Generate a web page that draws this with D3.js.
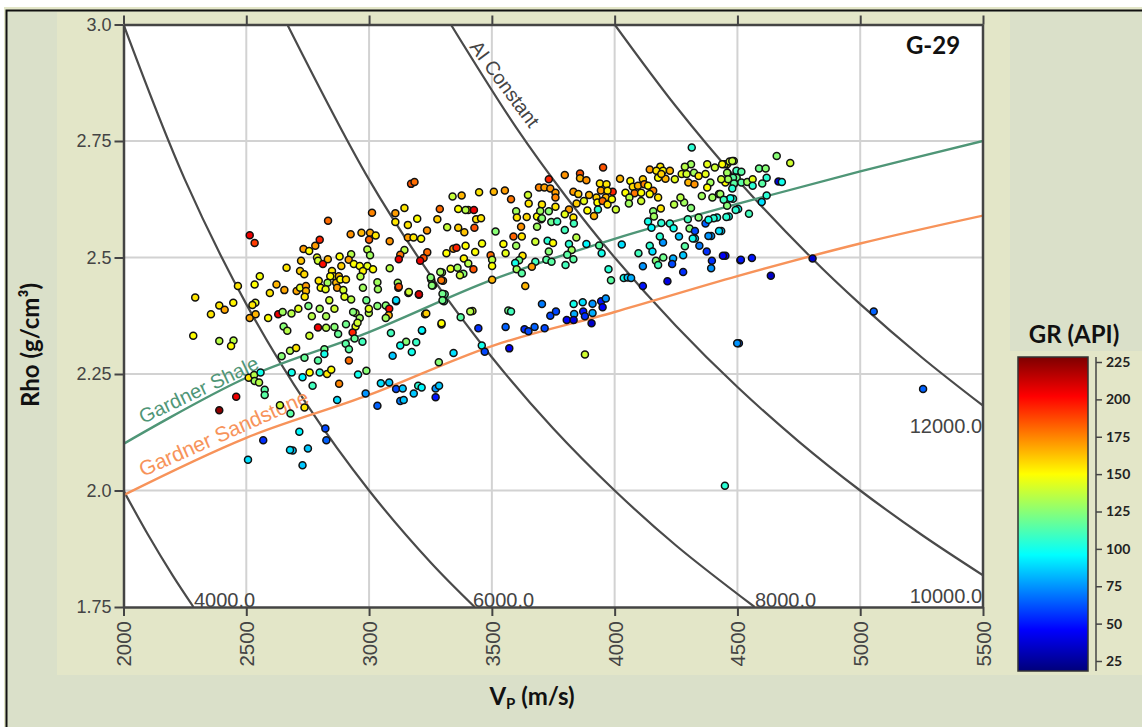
<!DOCTYPE html>
<html>
<head>
<meta charset="utf-8">
<script src="https://cdn.jsdelivr.net/npm/d3@7"></script>
<style>
  html, body { margin: 0; padding: 0; background: #fff; }
  svg { display: block; }
</style>
</head>
<body>
<svg id="chart" width="1142" height="727"></svg>
<script>
// tick labels
const vpTicks = [2000, 2500, 3000, 3500, 4000, 4500, 5000, 5500];
const rhoTicks = [1.75, 2.0, 2.25, 2.5, 2.75, 3.0];
const rhoTickLabels = ['1.75', '2.0', '2.25', '2.5', '2.75', '3.0'];
const grTicks = [25, 50, 75, 100, 125, 150, 175, 200, 225];

// colour bar stops
const grStops = [18, 46, 96, 150, 202, 228];
const grColors = ['#00007a', '#0000ff', '#00ffff', '#ffff00', '#ff0000', '#7f0000'];

// constant AI lines, read as [vp, rho]
const ai4000 = [[2000, 2.0], [2100, 1.905], [2200, 1.818], [2285, 1.75]];
const ai6000 = [[2000, 3.0], [2250, 2.667], [2500, 2.4], [2750, 2.182], [3000, 2.0], [3250, 1.846], [3430, 1.75]];
const ai8000 = [[2667, 3.0], [3000, 2.667], [3250, 2.462], [3500, 2.286], [3750, 2.133], [4000, 2.0], [4250, 1.882], [4570, 1.75]];
const ai10000 = [[3333, 3.0], [3600, 2.778], [3800, 2.632], [4000, 2.5], [4250, 2.353], [4500, 2.222], [4750, 2.105], [5000, 2.0], [5250, 1.905], [5500, 1.818]];
const ai12000 = [[4000, 3.0], [4250, 2.824], [4500, 2.667], [4800, 2.5], [5000, 2.4], [5250, 2.286], [5500, 2.182]];

// Gardner trends, read as [vp, rho]
const gardnerShale = [[2000, 2.10], [2500, 2.242], [3000, 2.34], [3500, 2.452], [4000, 2.54], [4500, 2.615], [5000, 2.685], [5500, 2.75]];
const gardnerSand = [[2000, 1.99], [2500, 2.113], [3000, 2.205], [3500, 2.31], [4000, 2.383], [4500, 2.46], [5000, 2.53], [5500, 2.59]];

// well points as [vp, rho, gr]
const leftPoints = [
  [2514,2.548,205],[2534,2.531,190],[2292,2.414,155],[2284,2.332,150],[2356,2.378,155],[2390,2.397,155],
  [2412,2.388,168],[2447,2.403,152],[2390,2.321,135],[2448,2.322,135],[2438,2.31,150],[2466,2.439,155],
  [2555,2.46,148],[2534,2.442,150],[2537,2.403,145],[2525,2.398,155],[2514,2.37,168],[2538,2.378,165],
  [2589,2.37,150],[2630,2.378,205],[2648,2.383,130],[2684,2.38,135],[2712,2.39,145],[2753,2.396,122],
  [2767,2.374,135],[2799,2.39,132],[2825,2.374,132],[2859,2.39,140],[2838,2.408,140],[2623,2.442,165],
  [2596,2.424,155],[2655,2.43,168],[2664,2.478,155],[2723,2.493,162],[2719,2.471,160],[2736,2.464,158],
  [2733,2.518,170],[2756,2.514,150],[2781,2.525,170],[2799,2.538,195],[2788,2.5,145],[2792,2.493,140],
  [2812,2.486,200],[2832,2.496,165],[2880,2.502,150],[2927,2.507,135],[2887,2.482,160],[2917,2.495,170],
  [2938,2.486,150],[2962,2.482,150],[2993,2.482,145],[2975,2.471,152],[2965,2.459,135],[3016,2.475,150],
  [2993,2.517,135],[3004,2.505,130],[3084,2.477,135],[2925,2.55,172],[2969,2.553,165],[3004,2.553,168],
  [3027,2.547,155],[3000,2.538,182],[3084,2.535,172],[2833,2.579,180],[2849,2.471,155],[2856,2.46,152],
  [2877,2.46,165],[2842,2.46,150],[2831,2.446,130],[2866,2.446,165],[2883,2.453,150],[2906,2.453,158],
  [2795,2.45,155],[2803,2.435,150],[2823,2.432,145],[2870,2.435,170],[2895,2.43,140],[2900,2.416,145],
  [2927,2.41,135],[2975,2.435,130],[3034,2.447,130],[3036,2.432,130],[2705,2.428,168],[2719,2.435,145],
  [2743,2.439,170],[2743,2.428,165],[2738,2.416,155]
];
const lowerLeftPoints = [
  [2989,2.408,120],[3034,2.396,125],[3068,2.397,125],[3082,2.39,200],[3080,2.376,165],[3068,2.37,130],
  [3110,2.406,100],[2999,2.381,135],[2945,2.381,135],[2935,2.383,125],[2962,2.37,130],[2945,2.352,145],
  [2953,2.36,140],[2999,2.39,145],[2652,2.352,125],[2667,2.343,135],[2757,2.332,140],[2792,2.35,205],
  [2825,2.349,135],[2859,2.351,125],[2874,2.336,118],[2906,2.357,120],[2933,2.339,195],[2941,2.326,118],
  [2973,2.319,110],[2905,2.315,115],[2918,2.303,115],[3089,2.338,110],[3151,2.319,125],[3127,2.311,100],
  [3192,2.318,108],[3174,2.297,100],[3096,2.289,85],[3216,2.343,100],[3295,2.356,150],[3228,2.378,160],
  [3119,2.435,185],[3160,2.424,145],[3203,2.42,205],[3253,2.453,125],[3260,2.44,125],[3301,2.45,170],
  [3297,2.468,130],[3308,2.421,115],[3305,2.406,115],[2644,2.288,125],[2678,2.3,135],[2703,2.306,155],
  [2737,2.285,118],[2818,2.303,120],[2818,2.293,100],[2792,2.279,115],[2685,2.253,100],[2729,2.243,95],
  [2758,2.253,150],[2770,2.225,110],[2799,2.253,105],[2829,2.25,155],[2846,2.259,150],[2918,2.279,180],
  [2955,2.249,100],[2989,2.257,125],[2878,2.229,175],[2870,2.194,90],[2986,2.208,75],[3034,2.182,65],
  [3048,2.23,90],[3082,2.232,85],[3110,2.218,60],[3137,2.219,85],[3127,2.192,70],[3141,2.194,85],
  [3182,2.208,85],[3200,2.225,105],[3214,2.221,95],[3271,2.219,75],[3285,2.225,85],[3271,2.2,50],
  [3284,2.275,125],[2510,2.242,155],[2532,2.248,135],[2558,2.253,100],[2534,2.235,130],[2552,2.232,135],
  [2575,2.216,115],[2575,2.205,115],[2459,2.201,205],[2390,2.172,225],[2637,2.183,140],[2680,2.165,115],
  [2737,2.178,155],[2569,2.108,55],[2716,2.126,95],[2822,2.133,60],[2826,2.108,65],[2689,2.086,85],
  [2751,2.09,85],[2507,2.066,90],[2729,2.054,85],[2678,2.087,90]
];
const middlePoints = [
  [3171,2.658,185],[3185,2.662,180],[3012,2.596,175],[3107,2.595,170],[3144,2.606,155],[3107,2.576,155],
  [3196,2.583,150],[3158,2.57,155],[3278,2.582,160],[3288,2.604,180],[3236,2.558,172],[3340,2.631,138],
  [3377,2.633,165],[3448,2.64,155],[3318,2.565,138],[3363,2.604,150],[3404,2.602,165],[3427,2.602,205],
  [3393,2.602,135],[3363,2.564,160],[3388,2.554,162],[3429,2.564,185],[3436,2.582,155],[3456,2.584,155],
  [3158,2.543,170],[3181,2.543,155],[3212,2.54,150],[3144,2.516,135],[3127,2.506,178],[3121,2.496,205],
  [3237,2.511,180],[3222,2.499,185],[3208,2.493,205],[3315,2.509,150],[3343,2.519,172],[3356,2.521,195],
  [3393,2.525,150],[3432,2.512,150],[3386,2.498,152],[3404,2.487,135],[3332,2.476,145],[3360,2.478,130],
  [3384,2.465,125],[3370,2.462,140],[3425,2.475,185],[3290,2.469,130],[3294,2.451,178],[3251,2.457,125],
  [3256,2.44,125],[3117,2.446,130],[3121,2.437,185],[3162,2.426,140],[3203,2.421,210],[3110,2.408,90],
  [3299,2.422,120],[3299,2.408,120],[3373,2.372,115],[3421,2.385,140],[3233,2.38,160],[3295,2.359,150],
  [3215,2.344,95],[3445,2.348,55],[3344,2.295,90],[3459,2.311,100]
];
const centrePoints = [
  [3508,2.641,165],[3553,2.644,170],[3578,2.625,178],[3647,2.634,140],[3650,2.616,155],[3599,2.599,130],
  [3602,2.586,155],[3642,2.587,158],[3684,2.588,150],[3701,2.582,160],[3692,2.65,175],[3714,2.65,170],
  [3732,2.668,195],[3738,2.648,172],[3759,2.639,170],[3759,2.629,175],[3704,2.614,155],[3797,2.677,172],
  [3859,2.68,185],[3859,2.67,165],[3885,2.666,172],[3953,2.693,185],[3940,2.659,155],[3967,2.657,155],
  [3992,2.641,195],[3832,2.641,170],[3852,2.636,160],[3896,2.634,165],[3944,2.644,170],[3971,2.643,155],
  [3926,2.629,160],[3964,2.629,165],[3845,2.616,160],[3814,2.603,170],[3875,2.621,145],[3930,2.618,150],
  [3951,2.621,180],[3971,2.614,155],[3989,2.625,148],[4005,2.603,140],[3889,2.601,150],[3932,2.603,105],
  [3759,2.609,155],[3732,2.599,125],[3697,2.6,130],[3797,2.593,145],[3832,2.586,155],[3916,2.589,165],
  [3834,2.573,110],[3742,2.576,120],[3766,2.577,110],[3704,2.584,125],[3684,2.566,130],[3619,2.566,172],
  [3588,2.545,182],[3622,2.545,155],[3677,2.534,140],[3727,2.536,105],[3749,2.531,150],[3797,2.559,110],
  [3814,2.529,105],[3844,2.543,135],[3825,2.516,130],[3885,2.529,95],[3937,2.526,115],[3947,2.509,100],
  [4029,2.528,90],[3732,2.513,125],[3722,2.495,115],[3743,2.491,115],[3807,2.506,115],[3832,2.496,115],
  [3800,2.484,110],[3677,2.491,110],[3663,2.48,170],[3625,2.504,155],[3611,2.494,120],[3595,2.488,100],
  [3601,2.475,130],[3622,2.466,115],[3547,2.529,150],[3556,2.509,145],[3599,2.525,130],[3460,2.53,148],
  [3495,2.505,180],[3501,2.495,135],[3501,2.482,150],[3501,2.452,165],[3636,2.439,165],[3515,2.556,125]
];
const lowerRightPoints = [
  [3975,2.475,105],[3985,2.451,115],[4037,2.456,100],[4053,2.457,85],[4067,2.456,80],[4115,2.439,50],
  [4215,2.449,40],[4115,2.481,75],[4097,2.509,110],[4143,2.525,105],[4154,2.513,90],[4168,2.493,125],
  [4198,2.5,120],[4177,2.484,110],[4238,2.498,80],[4234,2.486,60],[4279,2.505,85],[4279,2.469,55],
  [4286,2.524,115],[4197,2.532,75],[4184,2.545,105],[4262,2.545,85],[4327,2.541,90],[4345,2.525,70],
  [4375,2.513,55],[4393,2.546,75],[4434,2.557,85],[4451,2.504,40],[4396,2.493,55],[4393,2.477,75],
  [4512,2.494,45],[4506,2.316,65],[3567,2.386,120],[3578,2.384,110],[3412,2.384,135],[3556,2.351,65],
  [3633,2.346,55],[3649,2.342,60],[3674,2.351,65],[3715,2.348,60],[3571,2.305,45],[3471,2.298,60],
  [3879,2.292,140],[3704,2.4,70],[3738,2.375,60],[3761,2.384,60],[3833,2.4,100],[3870,2.404,90],
  [3910,2.401,75],[3945,2.406,50],[3964,2.412,75],[3951,2.393,45],[3835,2.379,80],[3872,2.384,50],
  [3910,2.381,80],[3805,2.366,45],[3833,2.366,40],[3879,2.374,55],[3906,2.359,35]
];
const upperRightPoints = [
  [4022,2.669,165],[4064,2.664,150],[4044,2.639,150],[4074,2.652,158],[4115,2.668,160],[4095,2.654,165],
  [4143,2.689,170],[4186,2.695,155],[4170,2.686,155],[4197,2.686,150],[4225,2.686,165],[4177,2.671,150],
  [4207,2.669,165],[4190,2.679,160],[4121,2.657,175],[4136,2.654,150],[4157,2.643,175],[4081,2.638,178],
  [4108,2.639,150],[4143,2.636,150],[4177,2.629,155],[4060,2.629,135],[4108,2.621,140],[4058,2.616,130],
  [4157,2.599,125],[4188,2.605,155],[4160,2.588,130],[4136,2.577,100],[4150,2.564,95],[4190,2.574,105],
  [4225,2.573,105],[4240,2.563,100],[4311,2.606,125],[4242,2.614,135],[4283,2.618,130],[4268,2.629,135],
  [4245,2.668,145],[4273,2.679,145],[4293,2.679,140],[4311,2.7,130],[4286,2.695,135],[4323,2.682,130],
  [4300,2.661,165],[4325,2.657,172],[4342,2.675,155],[4370,2.679,145],[4377,2.7,145],[4408,2.693,140],
  [4390,2.661,130],[4355,2.632,130],[4377,2.65,150],[4398,2.629,130],[4425,2.636,125],[4458,2.7,150],
  [4485,2.707,140],[4464,2.675,155],[4451,2.661,150],[4499,2.682,120],[4485,2.657,125],[4482,2.626,105],
  [4454,2.623,115],[4430,2.636,130],[4314,2.736,105],[4298,2.582,110],[4342,2.586,125],[4370,2.573,65],
  [4417,2.586,100],[4465,2.588,100],[4305,2.562,125],[4327,2.557,60],[4503,2.604,100],[4448,2.7,140],
  [4468,2.706,140],[4479,2.707,138],[4438,2.7,150],[4458,2.682,130],[4496,2.686,110],[4516,2.684,115],
  [4497,2.671,120],[4482,2.671,115],[4462,2.668,130],[4434,2.668,140],[4486,2.659,115],[4516,2.661,115],
  [4540,2.662,130],[4562,2.668,145],[4562,2.654,105],[4588,2.691,120],[4615,2.691,125],[4619,2.671,105],
  [4601,2.659,115],[4660,2.718,125],[4715,2.703,140],[4667,2.663,40],[4681,2.662,100],[4479,2.648,105],
  [4471,2.627,100],[4444,2.624,110],[4458,2.611,125],[4493,2.602,105],[4547,2.594,110],[4599,2.619,90],
  [4619,2.633,105],[4455,2.587,105],[4403,2.584,105],[4382,2.581,100],[4425,2.557,90],[4382,2.546,75],
  [4318,2.541,100]
];
const outlierPoints = [
  [4441,2.504,45],[4514,2.495,50],[4559,2.499,50],[4636,2.461,35],[4806,2.498,35],[5055,2.384,65],
  [4499,2.316,75],[5256,2.218,65],[4449,2.01,105]
];

const points = [leftPoints, lowerLeftPoints, middlePoints, centrePoints, lowerRightPoints, upperRightPoints, outlierPoints].flat();

const svg = d3.select('#chart');
const width = +svg.attr('width');
const height = +svg.attr('height');

const plot = { left: 123.5, right: 983, top: 24.5, bottom: 607 };
const axisColor = '#444';
const tickFont = '"Liberation Sans", Arial, sans-serif';
const titleFont = 'Lato, "Noto Sans", sans-serif';

const xScale = d3.scaleLinear().domain([2000, 5500]).range([plot.left, plot.right]);
const yScale = d3.scaleLinear().domain([1.75, 3]).range([plot.bottom, plot.top]);
const grColor = d3.scaleLinear().domain(grStops).range(grColors).clamp(true);

// panel backgrounds
svg.append('rect').attr('width', width).attr('height', height).attr('fill', '#ffffff');
svg.append('rect').attr('x', 4).attr('y', 7).attr('width', width - 4).attr('height', height - 7).attr('fill', '#e3e6c8');
svg.append('rect').attr('x', 7).attr('y', 11).attr('width', width - 7).attr('height', height - 11)
  .attr('fill', '#dae0c9');
svg.append('path').attr('d', `M6.5,${height}V10.5H${width}`)
  .attr('fill', 'none').attr('stroke', '#111').attr('stroke-width', 2);
svg.append('rect').attr('x', 57).attr('y', 12).attr('width', 953).attr('height', 663).attr('fill', '#e3e6c8');
svg.append('rect').attr('x', 1010).attr('y', 351).attr('width', 132).attr('height', 324).attr('fill', '#e3e6c8');

svg.append('rect')
  .attr('x', plot.left).attr('y', plot.top)
  .attr('width', plot.right - plot.left).attr('height', plot.bottom - plot.top)
  .attr('fill', '#fff');

const defs = svg.append('defs');
defs.append('clipPath').attr('id', 'plot-clip').append('rect')
  .attr('x', plot.left).attr('y', plot.top)
  .attr('width', plot.right - plot.left).attr('height', plot.bottom - plot.top);

// grid
svg.append('g').selectAll('line').data(vpTicks.slice(1, -1)).enter().append('line')
  .attr('x1', d => xScale(d)).attr('x2', d => xScale(d))
  .attr('y1', plot.top).attr('y2', plot.bottom)
  .attr('stroke', '#d2d2d2').attr('stroke-width', 2);
svg.append('g').selectAll('line').data(rhoTicks.slice(1, -1)).enter().append('line')
  .attr('x1', plot.left).attr('x2', plot.right)
  .attr('y1', d => yScale(d)).attr('y2', d => yScale(d))
  .attr('stroke', '#d2d2d2').attr('stroke-width', 2);

const line = d3.line()
  .x(d => xScale(d[0]))
  .y(d => yScale(d[1]))
  .curve(d3.curveCatmullRom.alpha(0.5));

const lines = svg.append('g').attr('clip-path', 'url(#plot-clip)').attr('fill', 'none');
[ai4000, ai6000, ai8000, ai10000, ai12000].forEach(d => {
  lines.append('path').attr('d', line(d)).attr('stroke', '#4a4a4a').attr('stroke-width', 2.2);
});
lines.append('path').attr('d', line(gardnerShale)).attr('stroke', '#4f9677').attr('stroke-width', 2.4);
lines.append('path').attr('d', line(gardnerSand)).attr('stroke', '#f7935a').attr('stroke-width', 2.4);

// in-plot labels
const note = (text, x, y, size, color, angle, anchor) => svg.append('text')
  .attr('transform', `translate(${x},${y}) rotate(${angle})`)
  .attr('text-anchor', anchor || 'start')
  .attr('font-family', tickFont).attr('font-size', size).attr('fill', color)
  .text(text);

note('Gardner Shale', 143, 424, 20, '#4f9677', -25.5);
note('Gardner Sandstone', 143, 477, 21, '#f7935a', -24);
note('AI Constant', 469, 47, 19.5, '#444', 53.5);
note('4000.0', 194, 607, 20, axisColor, 0);
note('6000.0', 473, 607, 20, axisColor, 0);
note('8000.0', 755, 607, 20, axisColor, 0);
note('10000.0', 982, 603, 20, axisColor, 0, 'end');
note('12000.0', 982, 433, 20, axisColor, 0, 'end');

// axes
const styleAxis = g => {
  g.selectAll('path').attr('stroke', axisColor).attr('stroke-width', 2.5);
  g.selectAll('line').attr('stroke', axisColor).attr('stroke-width', 2);
  g.selectAll('text').attr('fill', axisColor).attr('font-family', tickFont);
};

svg.append('g')
  .attr('transform', `translate(${plot.left},0)`)
  .call(d3.axisLeft(yScale).tickValues(rhoTicks).tickFormat((d, i) => rhoTickLabels[i]).tickSize(9).tickSizeOuter(0).tickPadding(3))
  .call(styleAxis)
  .attr('font-size', 18);

svg.append('g')
  .attr('transform', `translate(0,${plot.top})`)
  .call(d3.axisTop(xScale).tickValues(vpTicks).tickFormat('').tickSize(9).tickSizeOuter(0))
  .call(styleAxis);

svg.append('g')
  .attr('transform', `translate(0,${plot.bottom})`)
  .call(d3.axisBottom(xScale).tickValues(vpTicks).tickFormat(d3.format('d')).tickSize(9).tickSizeOuter(0))
  .call(styleAxis)
  .attr('font-size', 20.5)
  .selectAll('text')
  .attr('transform', 'rotate(-90)')
  .attr('text-anchor', 'end')
  .attr('x', -14).attr('y', 0).attr('dy', '0.36em');

svg.append('line')
  .attr('x1', plot.right).attr('x2', plot.right).attr('y1', plot.top).attr('y2', plot.bottom)
  .attr('stroke', axisColor).attr('stroke-width', 2.5);

// points
svg.append('g').selectAll('circle').data(points).enter().append('circle')
  .attr('cx', d => xScale(d[0]))
  .attr('cy', d => yScale(d[1]))
  .attr('r', 3.5)
  .attr('fill', d => grColor(d[2]))
  .attr('stroke', '#111')
  .attr('stroke-width', 1.5);

// titles
svg.append('text').attr('x', 933).attr('y', 54)
  .attr('text-anchor', 'middle').attr('font-family', titleFont).attr('font-weight', 700).attr('font-size', 24).attr('fill', '#111')
  .text('G-29');
svg.append('text').attr('transform', 'translate(39,345) rotate(-90)')
  .attr('text-anchor', 'middle').attr('font-family', titleFont).attr('font-weight', 700).attr('font-size', 24).attr('fill', '#111')
  .text('Rho (g/cm³)');
const vpTitle = svg.append('text').attr('x', 532).attr('y', 705)
  .attr('text-anchor', 'middle').attr('font-family', titleFont).attr('font-weight', 700).attr('font-size', 24).attr('fill', '#111');
vpTitle.append('tspan').text('V');
vpTitle.append('tspan').attr('font-size', 15).attr('dy', 4).text('P');
vpTitle.append('tspan').attr('dy', -4).text(' (m/s)');

// colour bar
const bar = { x: 1018, y: 357, width: 70, height: 314 };
const grScale = d3.scaleLinear().domain([25, 225]).range([661, 362]);

const gradient = defs.append('linearGradient').attr('id', 'gr-gradient')
  .attr('x1', 0).attr('x2', 0).attr('y1', 1).attr('y2', 0);
gradient.selectAll('stop').data(grStops).enter().append('stop')
  .attr('offset', d => (bar.y + bar.height - grScale(d)) / bar.height)
  .attr('stop-color', d => grColor(d));

svg.append('rect')
  .attr('x', bar.x).attr('y', bar.y).attr('width', bar.width).attr('height', bar.height)
  .attr('fill', 'url(#gr-gradient)').attr('stroke', '#333').attr('stroke-width', 1.5);

const legendAxis = svg.append('g')
  .attr('transform', 'translate(1096,0)')
  .call(d3.axisRight(grScale).tickValues(grTicks).tickSize(6).tickSizeOuter(0).tickPadding(4));
legendAxis.select('path').attr('d', `M0,${bar.y}V${bar.y + bar.height}`).attr('stroke', axisColor).attr('stroke-width', 1.5);
legendAxis.selectAll('line').attr('stroke', axisColor).attr('stroke-width', 1.5);
legendAxis.selectAll('text').attr('font-family', titleFont).attr('font-weight', 700).attr('font-size', 14).attr('fill', '#222');

svg.append('text').attr('x', 1074).attr('y', 343)
  .attr('text-anchor', 'middle').attr('font-family', titleFont).attr('font-weight', 700).attr('font-size', 24).attr('fill', '#111')
  .text('GR (API)');
</script>
</body>
</html>
